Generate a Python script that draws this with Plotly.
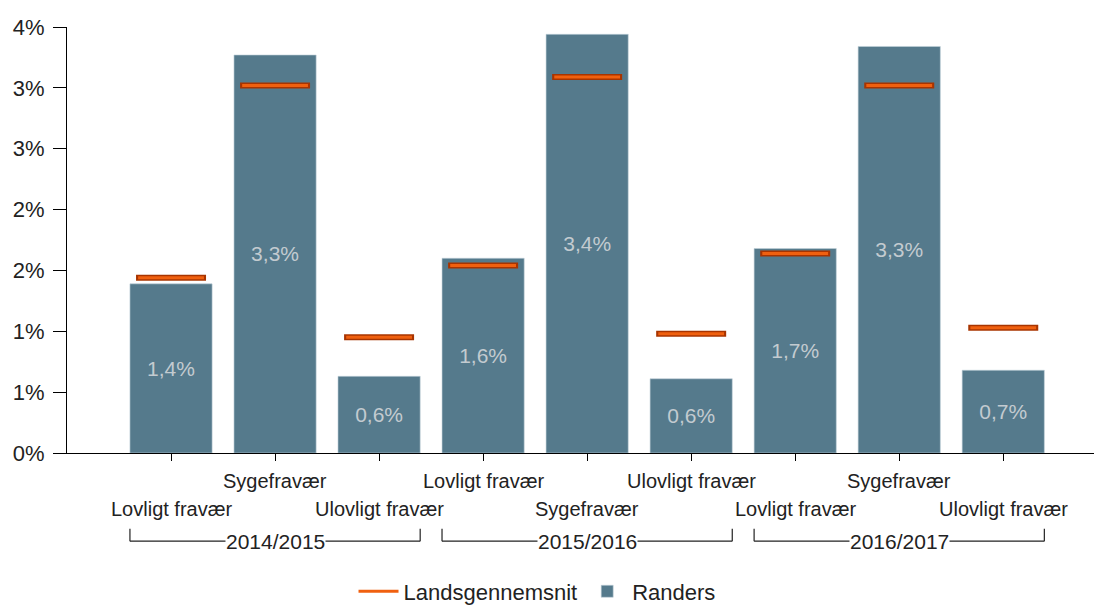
import plotly.graph_objects as go

# ── Data ──────────────────────────────────────────────────────────────────────
years = ["2014/2015", "2015/2016", "2016/2017"]
kinds = ["Lovligt fravær", "Sygefravær", "Ulovligt fravær"]

randers = [1.39, 3.27, 0.63, 1.60, 3.44, 0.61, 1.68, 3.34, 0.68]
lands = [1.44, 3.02, 0.95, 1.54, 3.09, 0.98, 1.64, 3.02, 1.03]

y_ticks = [0, 0.5, 1.0, 1.5, 2.0, 2.5, 3.0, 3.5]
y_ticktext = ["0%", "1%", "1%", "2%", "2%", "3%", "3%", "4%"]

# ── Style ─────────────────────────────────────────────────────────────────────
FONT = "Liberation Sans, Arial, sans-serif"
BAR_COLOR = "#557A8C"
ORANGE = "#F0600F"
ORANGE_EDGE = "#A83400"
TEXT = "#222222"
BAR_W = 0.79

# page body has an 8px default margin, so the figure is sized to fit inside it
W, H = 1094, 601

xs = list(range(len(randers)))
labels = [f"{v:.1f}%".replace(".", ",") for v in randers]

fig = go.Figure()

fig.add_trace(go.Bar(
    x=xs, y=randers, width=BAR_W,
    name="Randers", legendrank=2,
    marker=dict(color=BAR_COLOR, line=dict(color="#C3D2DA", width=0.6)),
    text=labels, textposition="inside", insidetextanchor="middle",
    textangle=0, constraintext="none",
    textfont=dict(color="#C3CBD0", size=21, family=FONT),
    hoverinfo="skip",
))

# Landsgennemsnit markers: dark edge + orange core
fig.add_trace(go.Scatter(
    x=xs, y=lands, mode="markers", showlegend=False, hoverinfo="skip",
    marker=dict(symbol="line-ew", size=50, line=dict(color=ORANGE_EDGE, width=6)),
))
fig.add_trace(go.Scatter(
    x=xs, y=lands, mode="markers", showlegend=False, hoverinfo="skip",
    marker=dict(symbol="line-ew", size=47, line=dict(color=ORANGE, width=3)),
))
# legend entry
fig.add_trace(go.Scatter(
    x=[None], y=[None], mode="lines", name="Landsgennemsnit", legendrank=1,
    line=dict(color=ORANGE, width=3),
))

# ── Category labels (staggered) and year brackets ─────────────────────────────
annotations = []
shapes = []
for i in xs:
    kind = kinds[i % 3]
    row_y = -0.066 if i % 2 == 1 else -0.131
    annotations.append(dict(
        x=i, y=row_y, xref="x", yref="paper", text=kind, showarrow=False,
        font=dict(size=20, color=TEXT, family=FONT), yanchor="middle",
    ))

for g, yr in enumerate(years):
    x0 = g * 3 - BAR_W / 2
    x1 = g * 3 + 2 + BAR_W / 2
    yb, yt = -0.207, -0.178
    shapes.append(dict(type="line", xref="x", yref="paper", x0=x0, x1=x1, y0=yb, y1=yb,
                       line=dict(color=TEXT, width=1.2)))
    for xe in (x0, x1):
        shapes.append(dict(type="line", xref="x", yref="paper", x0=xe, x1=xe, y0=yb, y1=yt,
                           line=dict(color=TEXT, width=1.2)))
    annotations.append(dict(
        x=g * 3 + 1, y=yb, xref="x", yref="paper", text=yr, showarrow=False,
        font=dict(size=21, color=TEXT, family=FONT), yanchor="middle",
        bgcolor="white", borderpad=0,
    ))

fig.update_layout(
    width=W, height=H,
    paper_bgcolor="white", plot_bgcolor="white",
    font=dict(family=FONT, color=TEXT),
    margin=dict(l=59, r=2, t=19, b=H - 19 - 426, autoexpand=False),
    bargap=0.2,
    xaxis=dict(
        range=[-1, 8.93], tickvals=xs, ticktext=[""] * len(xs),
        showgrid=False, zeroline=False, automargin=False,
        showline=True, linecolor="#000000", linewidth=1.2,
        ticks="outside", ticklen=7, tickcolor="#000000", tickwidth=1.2,
    ),
    yaxis=dict(
        range=[0, 3.5], tickvals=y_ticks, ticktext=y_ticktext,
        showgrid=False, zeroline=False, automargin=False,
        showline=True, linecolor="#000000", linewidth=1.2,
        ticks="outside", ticklen=13, tickcolor="#000000", tickwidth=1.2,
        tickfont=dict(size=22, color=TEXT, family=FONT),
        ticklabelstandoff=4,
    ),
    legend=dict(
        orientation="h",
        x=0.455, xanchor="center", y=-0.325, yanchor="middle",
        font=dict(size=22, color=TEXT, family=FONT),
        itemwidth=40,
        traceorder="normal",
    ),
    annotations=annotations,
    shapes=shapes,
)

fig.write_html("out.html")
